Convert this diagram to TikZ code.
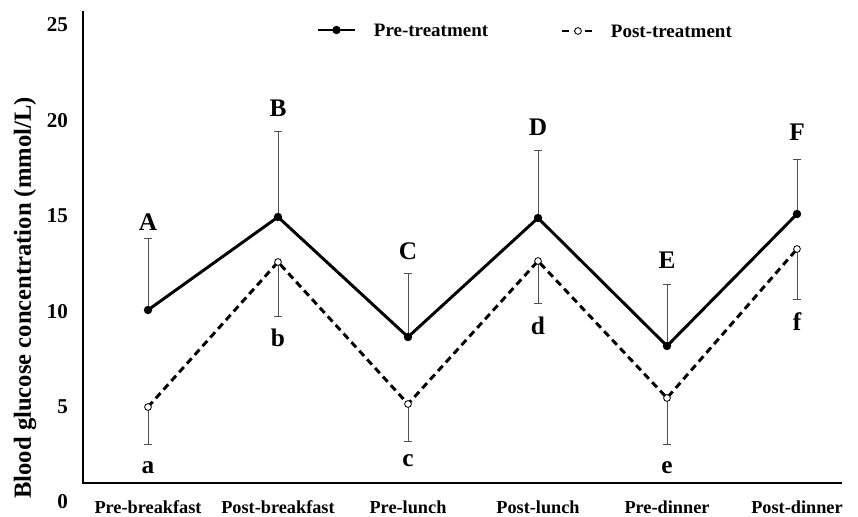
\documentclass[tikz,border=0pt]{standalone}
\usepackage{fontspec}
\setmainfont{Liberation Serif}
\usetikzlibrary{positioning,calc}
\definecolor{gcBar}{RGB}{80,80,80}

\tikzset{
  preline/.style={black, line width=2.1pt, line join=round},
  postline/.style={black, line width=2.1pt, dash pattern=on 5pt off 3.3pt},
  predot/.style={circle, fill=black, inner sep=0pt, minimum size=6pt},
  postdot/.style={circle, draw=black, fill=white, line width=0.6pt, inner sep=0pt, minimum size=4.8pt},
  errbar/.style={gcBar, line width=0.7pt},
  grplabel/.style={font=\fontsize{18}{18}\selectfont\bfseries},
  ticklabel/.style={font=\fontsize{15}{15}\selectfont\bfseries, anchor=east},
  catlabel/.style={font=\fontsize{13}{13}\selectfont\bfseries},
  legendtext/.style={font=\fontsize{13.5}{13.5}\selectfont\bfseries, anchor=west}
}

\begin{document}
\begin{tikzpicture}[x=0.025cm, y=-0.025cm]
  \useasboundingbox (0,0) rectangle (858,517);

  % axes
  \coordinate (top) at (83,11);
  \coordinate (origin) at (83,483);
  \coordinate (right) at (842,483);
  \draw[black, line width=0.8pt] (top) -- (origin) -- (right);

  % y tick labels
  \foreach \v in {0,5,...,25}
    \node[ticklabel] (tick\v) at (73,{502-19.08*\v}) {\v};
  \node[font=\fontsize{17.5}{17.5}\selectfont\bfseries, rotate=90] (ytitle) at (25,298)
    {Blood glucose concentration (mmol/L)};

  % categories
  \foreach \name/\x [count=\i] in {Pre-breakfast/148, Post-breakfast/278, Pre-lunch/408,
      Post-lunch/538, Pre-dinner/667, Post-dinner/797}
    \node[catlabel] (cat\i) at (\x,507) {\name};

  % error bars, pre-treatment (upwards)
  \foreach \x/\y/\t [count=\i] in {148/310/238, 278/217/131, 408/337/273,
      538/218/150, 667/346/284, 797/214/159} {
    \coordinate (pre\i) at (\x,\y);
    \coordinate (precap\i) at (\x,\t);
    \draw[errbar] (pre\i) -- (precap\i);
    \draw[errbar] ([xshift=-3pt]precap\i) -- ([xshift=3pt]precap\i);
  }

  % error bars, post-treatment (downwards)
  \foreach \x/\y/\b [count=\i] in {148/407/444, 278/262/316, 408/404/441,
      538/261/303, 667/398/444, 797/249/299} {
    \coordinate (post\i) at (\x,\y);
    \coordinate (postcap\i) at (\x,\b);
    \draw[errbar] (post\i) -- (postcap\i);
    \draw[errbar] ([xshift=-3pt]postcap\i) -- ([xshift=3pt]postcap\i);
  }

  % series
  \draw[preline] (pre1) -- (pre2) -- (pre3) -- (pre4) -- (pre5) -- (pre6);
  \draw[postline] (post1) -- (post2) -- (post3) -- (post4) -- (post5) -- (post6);
  \foreach \i in {1,...,6} {
    \node[predot] (predot\i) at (pre\i) {};
    \node[postdot] (postdot\i) at (post\i) {};
  }

  % significance letters
  \foreach \l/\x/\y in {A/148/222, B/278/108, C/408/251, D/538/127, E/667/260, F/797/132}
    \node[grplabel] (grp\l) at (\x,\y) {\l};
  \foreach \l/\x/\y in {a/148/468, b/278/338, c/408/461, d/538/326, e/667/468, f/797/322}
    \node[grplabel] (grp\l) at (\x,\y) {\l};

  % legend
  \coordinate (lpreA) at (318,30);
  \coordinate (lpreB) at (355,30);
  \draw[preline] (lpreA) -- (lpreB);
  \node[predot] (lpredot) at ($(lpreA)!0.5!(lpreB)$) {};
  \node[legendtext] (lpretext) at (369,30) {Pre-treatment};
  \coordinate (lpostA) at (562,31);
  \coordinate (lpostB) at (594,31);
  \draw[postline] (lpostA) -- (lpostB);
  \node[postdot] (lpostdot) at ($(lpostA)!0.5!(lpostB)$) {};
  \node[legendtext] (lposttext) at (606,31) {Post-treatment};
\end{tikzpicture}
\end{document}
